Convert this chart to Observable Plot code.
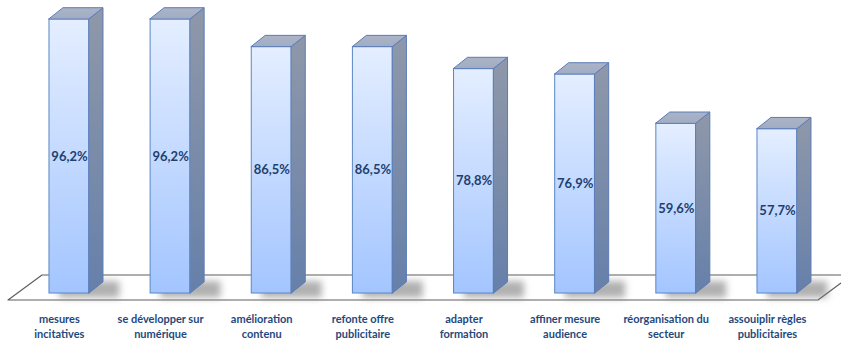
<!DOCTYPE html>
<html>
<head>
<meta charset="utf-8">
<script src="https://cdn.jsdelivr.net/npm/d3@7"></script>
<script src="https://cdn.jsdelivr.net/npm/@observablehq/plot@0.6"></script>
<style>
  html, body { margin: 0; padding: 0; background: #fff; overflow: hidden; }
  #chart svg { display: block; }
</style>
</head>
<body>
<div id="chart"></div>
<script>
const categories = [
  "mesures\nincitatives",
  "se développer sur\nnumérique",
  "amélioration\ncontenu",
  "refonte offre\npublicitaire",
  "adapter\nformation",
  "affiner mesure\naudience",
  "réorganisation du\nsecteur",
  "assouiplir règles\npublicitaires"
];
const values = [96.2, 96.2, 86.5, 86.5, 78.8, 76.9, 59.6, 57.7];
const valueLabels = ["96,2%", "96,2%", "86,5%", "86,5%", "78,8%", "76,9%", "59,6%", "57,7%"];

// geometry in data units
const half = 0.198;   // half bar width (x units)
const dx = 0.138;     // depth offset x
const dy = 3.9;       // depth offset y

const bars = values.map((v, i) => ({i, v, label: valueLabels[i], cat: categories[i]}));

const sideData = bars.flatMap(d => [
  {i: d.i, x: d.i + half, y1: 0, y2: d.v},
  {i: d.i, x: d.i + half + dx, y1: dy, y2: d.v + dy}
]);
const topData = bars.flatMap(d => [
  {i: d.i, y: d.v, x1: d.i - half, x2: d.i + half},
  {i: d.i, y: d.v + dy, x1: d.i - half + dx, x2: d.i + half + dx}
]);
const floorData = [
  {y: -2.46, x1: -0.603, x2: 7.405},
  {y: 6.32, x1: -0.267, x2: 7.741}
];

const SHADOW = "#7a7a7b";

const plot = Plot.plot({
  width: 841,
  height: 341,
  marginTop: 0, marginRight: 0, marginBottom: 0, marginLeft: 0,
  x: {domain: [0, 7], range: [69, 777], axis: null},
  y: {domain: [0, 100], range: [293, 8], axis: null},
  marks: [
    Plot.areaX(floorData, {y: "y", x1: "x1", x2: "x2", fill: "#ffffff", stroke: "#5f5f5f", strokeWidth: 1.2}),
    Plot.rect(bars, {x1: d => d.i - 0.1, x2: d => d.i + half + 0.3, y1: -1.6, y2: 4.2, fill: SHADOW, fillOpacity: 0.6}),
    Plot.rect(bars, {x1: d => d.i - half, x2: d => d.i + half, y1: 0, y2: "v", fill: "url(#gradFront)", stroke: "#5a86c4", strokeWidth: 1}),
    Plot.areaY(sideData, {x: "x", y1: "y1", y2: "y2", z: "i", fill: "url(#gradSide)", stroke: "#5a7cb8", strokeWidth: 1}),
    Plot.areaX(topData, {y: "y", x1: "x1", x2: "x2", z: "i", fill: "url(#gradTop)", stroke: "#5a7cb8", strokeWidth: 1}),
    Plot.text(bars, {x: "i", y: d => d.v / 2, text: "label", fill: "#1f3f6e", fontSize: 13, fontWeight: "bold", fontFamily: "Lato, 'Liberation Sans', sans-serif"}),
    Plot.text(bars, {x: d => d.i - 0.1, y: -11.4, text: "cat", fill: "#1f497d", fontSize: 11, fontWeight: "bold", lineHeight: 1.36, fontFamily: "Lato, 'Liberation Sans', sans-serif"})
  ]
});

const svg = d3.select(plot);
const defs = svg.insert("defs", ":first-child");
function grad(id, stops) {
  const g = defs.append("linearGradient").attr("id", id).attr("x1", 0).attr("y1", 0).attr("x2", 0).attr("y2", 1);
  stops.forEach(([o, c]) => g.append("stop").attr("offset", o).attr("stop-color", c));
}
grad("gradFront", [[0, "#e4eeff"], [1, "#a3c5ff"]]);
grad("gradSide", [[0, "#8f98a9"], [1, "#6680aa"]]);
grad("gradTop", [[0, "#abb4c7"], [1, "#a1acc3"]]);
defs.append("filter").attr("id", "blurShadow").attr("x", "-50%").attr("y", "-150%").attr("width", "200%").attr("height", "400%")
  .append("feGaussianBlur").attr("stdDeviation", 3.5);
svg.selectAll("g").filter(function() { return this.getAttribute("fill") === SHADOW; }).attr("filter", "url(#blurShadow)");

document.getElementById("chart").appendChild(plot);
</script>
</body>
</html>
